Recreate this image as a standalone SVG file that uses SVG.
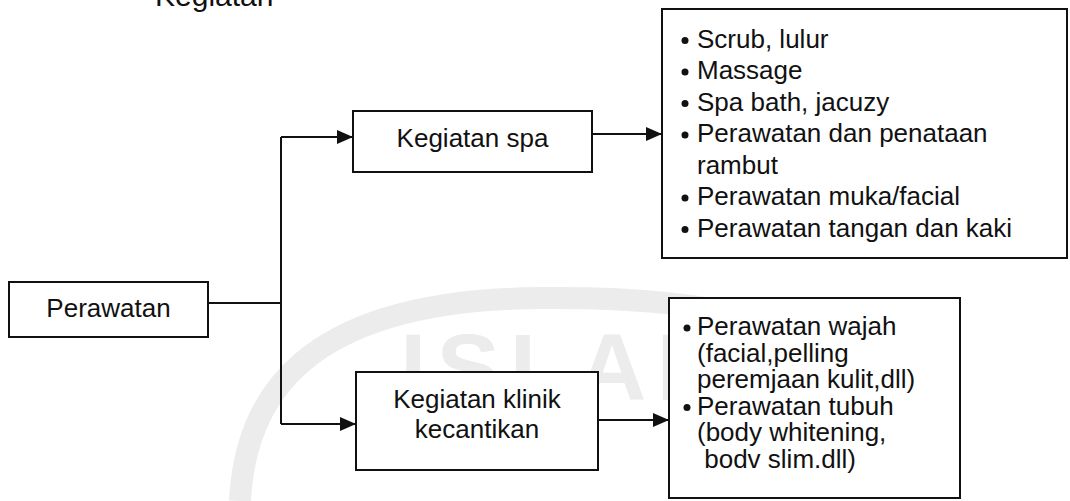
<svg xmlns="http://www.w3.org/2000/svg" width="1070" height="501" viewBox="0 0 1070 501">
  <style>
    .box { fill: #ffffff; stroke: #111111; stroke-width: 2; }
    .lbl { font-family: "Liberation Sans", Arial, sans-serif; font-size: 26px; fill: #111111; }
    .mid { text-anchor: middle; }
    .wire { fill: none; stroke: #111111; stroke-width: 2; }
    .dot { fill: #111111; }
    .wm { fill: none; stroke: #ececec; stroke-width: 22; }
    .wmtext { font-family: "Liberation Sans", Arial, sans-serif; font-size: 95px; font-weight: bold; fill: #ececec; letter-spacing: 10px; }
  </style>
  <defs>
    <marker id="head" markerUnits="userSpaceOnUse" markerWidth="16" markerHeight="14" refX="16" refY="7" orient="auto">
      <path d="M0,0 L16,7 L0,14 z" fill="#111111"/>
    </marker>
  </defs>

  <rect width="1070" height="501" fill="#ffffff"/>

  <!-- faint background seal -->
  <g id="seal">
    <path class="wm" d="M240 501 C245 400 300 300 540 298 C700 296 820 320 880 380"/>
    <text class="wmtext" x="400" y="400">ISLAM</text>
  </g>

  <!-- heading, cut at the top edge -->
  <text class="lbl" x="155" y="6" style="font-size:30px">Kegiatan</text>

  <g id="connectors">
    <path class="wire" d="M208 303 H281"/>
    <path class="wire" d="M281 137 V424"/>
    <path class="wire" d="M281 137 H353" marker-end="url(#head)"/>
    <path class="wire" d="M281 424 H356" marker-end="url(#head)"/>
    <path class="wire" d="M592 134 H662" marker-end="url(#head)"/>
    <path class="wire" d="M598 420 H669" marker-end="url(#head)"/>
  </g>

  <g id="perawatan">
    <rect class="box" x="9" y="282" width="199" height="55"/>
    <text class="lbl mid" x="108.5" y="317">Perawatan</text>
  </g>

  <g id="kegiatan-spa">
    <rect class="box" x="353" y="111" width="239" height="61"/>
    <text class="lbl mid" x="472.5" y="147">Kegiatan spa</text>
  </g>

  <g id="kegiatan-klinik">
    <rect class="box" x="356" y="372" width="242" height="98"/>
    <text class="lbl mid" x="477" y="408">Kegiatan klinik</text>
    <text class="lbl mid" x="477" y="438">kecantikan</text>
  </g>

  <g id="spa-list">
    <rect class="box" x="662" y="9" width="405" height="249"/>
    <circle class="dot" cx="685" cy="40.5" r="3.5"/>
    <text class="lbl" x="697" y="47.5">Scrub, lulur</text>
    <circle class="dot" cx="685" cy="72" r="3.5"/>
    <text class="lbl" x="697" y="79">Massage</text>
    <circle class="dot" cx="685" cy="103.5" r="3.5"/>
    <text class="lbl" x="697" y="110.5">Spa bath, jacuzy</text>
    <circle class="dot" cx="685" cy="135" r="3.5"/>
    <text class="lbl" x="697" y="142">Perawatan dan penataan</text>
    <text class="lbl" x="697" y="173.5">rambut</text>
    <circle class="dot" cx="685" cy="198" r="3.5"/>
    <text class="lbl" x="697" y="205">Perawatan muka/facial</text>
    <circle class="dot" cx="685" cy="229.5" r="3.5"/>
    <text class="lbl" x="697" y="236.5">Perawatan tangan dan kaki</text>
  </g>

  <g id="klinik-list">
    <rect class="box" x="669" y="298" width="291" height="200"/>
    <circle class="dot" cx="687" cy="328" r="3.5"/>
    <text class="lbl" x="697" y="335">Perawatan wajah</text>
    <text class="lbl" x="697" y="361.5">(facial,pelling</text>
    <text class="lbl" x="697" y="388">peremjaan kulit,dll)</text>
    <circle class="dot" cx="687" cy="407.5" r="3.5"/>
    <text class="lbl" x="697" y="414.5">Perawatan tubuh</text>
    <text class="lbl" x="697" y="441">(body whitening,</text>
    <text class="lbl" x="697" y="467.5" xml:space="preserve"> bodv slim.dll)</text>
  </g>
</svg>
